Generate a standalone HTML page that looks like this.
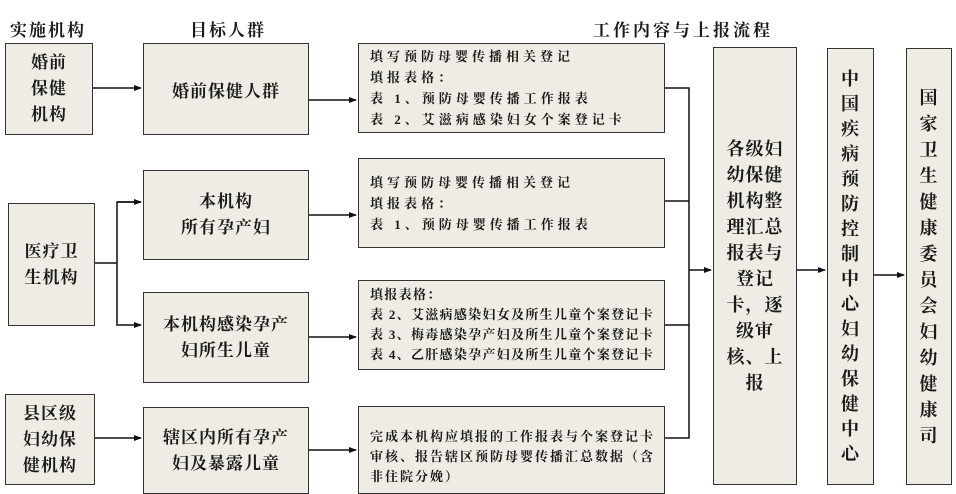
<!DOCTYPE html>
<html><head><meta charset="utf-8"><style>
body{margin:0;width:956px;height:494px;background:#fff;position:relative;overflow:hidden;font-family:"Liberation Serif","Noto Serif CJK SC",serif;color:#1a1a1a;}
.b{position:absolute;background:#eeece4;border:1.5px solid #333;box-sizing:border-box;display:flex;align-items:center;justify-content:center;text-align:center;font-weight:bold;letter-spacing:1px;}
.t{position:absolute;background:#eeece4;border:1.5px solid #333;box-sizing:border-box;font-size:13px;font-weight:bold;padding-left:11px;display:flex;flex-direction:column;justify-content:center;white-space:nowrap;}
.h{position:absolute;font-size:17px;font-weight:bold;letter-spacing:2px;}
svg{position:absolute;left:0;top:0}
</style></head><body>
<div class="h" style="left:10px;top:16px">实施机构</div>
<div class="h" style="left:190px;top:16px">目标人群</div>
<div class="h" style="left:593px;top:16px;letter-spacing:3px">工作内容与上报流程</div>

<div class="b" style="left:5px;top:43px;width:88px;height:92px;font-size:17px;line-height:26px">婚前<br>保健<br>机构</div>
<div class="b" style="left:143px;top:43px;width:166px;height:92px;font-size:17px">婚前保健人群</div>
<div class="b" style="left:8px;top:203px;width:87px;height:123px;font-size:17px;line-height:26px">医疗卫<br>生机构</div>
<div class="b" style="left:143px;top:170px;width:166px;height:90px;font-size:17px;line-height:26px">本机构<br>所有孕产妇</div>
<div class="b" style="left:143px;top:292px;width:166px;height:91px;font-size:17px;line-height:26px">本机构感染孕产<br>妇所生儿童</div>
<div class="b" style="left:5px;top:394px;width:90px;height:91px;font-size:17px;line-height:26px">县区级<br>妇幼保<br>健机构</div>
<div class="b" style="left:143px;top:407px;width:166px;height:87px;font-size:17px;line-height:26px">辖区内所有孕产<br>妇及暴露儿童</div>

<div class="t" style="left:358px;top:43px;width:307px;height:90px;line-height:21px;letter-spacing:4px">填写预防母婴传播相关登记<br>填报表格：<br>表 1、预防母婴传播工作报表<br>表 2、艾滋病感染妇女个案登记卡</div>
<div class="t" style="left:358px;top:158px;width:307px;height:90px;line-height:21px;letter-spacing:4px">填写预防母婴传播相关登记<br>填报表格：<br>表 1、预防母婴传播工作报表</div>
<div class="t" style="left:358px;top:280px;width:307px;height:90px;line-height:20px;letter-spacing:1.3px">填报表格：<br>表 2、艾滋病感染妇女及所生儿童个案登记卡<br>表 3、梅毒感染孕产妇及所生儿童个案登记卡<br>表 4、乙肝感染孕产妇及所生儿童个案登记卡</div>
<div class="t" style="left:358px;top:406px;width:307px;height:88px;line-height:20px;letter-spacing:2px;justify-content:flex-start;padding-top:20px">完成本机构应填报的工作报表与个案登记卡<br>审核、报告辖区预防母婴传播汇总数据（含<br>非住院分娩）</div>

<div class="b" style="left:713px;top:47px;width:84px;height:438px;font-size:18px;line-height:26px">各级妇<br>幼保健<br>机构整<br>理汇总<br>报表与<br>登记<br>卡，逐<br>级审<br>核、上<br>报</div>
<div class="b" style="left:827px;top:48px;width:47px;height:437px;font-size:18px;line-height:25px">中<br>国<br>疾<br>病<br>预<br>防<br>控<br>制<br>中<br>心<br>妇<br>幼<br>保<br>健<br>中<br>心</div>
<div class="b" style="left:906px;top:48px;width:46px;height:437px;font-size:18px;line-height:26px">国<br>家<br>卫<br>生<br>健<br>康<br>委<br>员<br>会<br>妇<br>幼<br>健<br>康<br>司</div>

<svg width="956" height="494">
<defs><marker id="a" markerWidth="8" markerHeight="8" refX="7" refY="4" orient="auto" markerUnits="userSpaceOnUse"><path d="M0,1 L8,4 L0,7z" fill="#111"/></marker></defs>
<g stroke="#111" stroke-width="1.5" fill="none">
<line x1="93" y1="88" x2="141" y2="88" marker-end="url(#a)"/>
<line x1="95" y1="263" x2="117" y2="263"/>
<polyline points="141,202 117,202 117,325 141,325" marker-end="url(#a)"/>
<line x1="117" y1="202" x2="141" y2="202" marker-end="url(#a)"/>
<line x1="95" y1="438" x2="141" y2="438" marker-end="url(#a)"/>
<line x1="309" y1="100" x2="356" y2="100" marker-end="url(#a)"/>
<line x1="309" y1="215" x2="356" y2="215" marker-end="url(#a)"/>
<line x1="309" y1="337" x2="356" y2="337" marker-end="url(#a)"/>
<line x1="309" y1="450" x2="356" y2="450" marker-end="url(#a)"/>
<polyline points="665,88 689,88 689,438 665,438"/>
<line x1="665" y1="201" x2="689" y2="201"/>
<line x1="665" y1="325" x2="689" y2="325"/>
<line x1="689" y1="270" x2="711" y2="270" marker-end="url(#a)"/>
<line x1="797" y1="270" x2="825" y2="270" marker-end="url(#a)"/>
<line x1="874" y1="275" x2="904" y2="275" marker-end="url(#a)"/>
</g></svg>
</body></html>
